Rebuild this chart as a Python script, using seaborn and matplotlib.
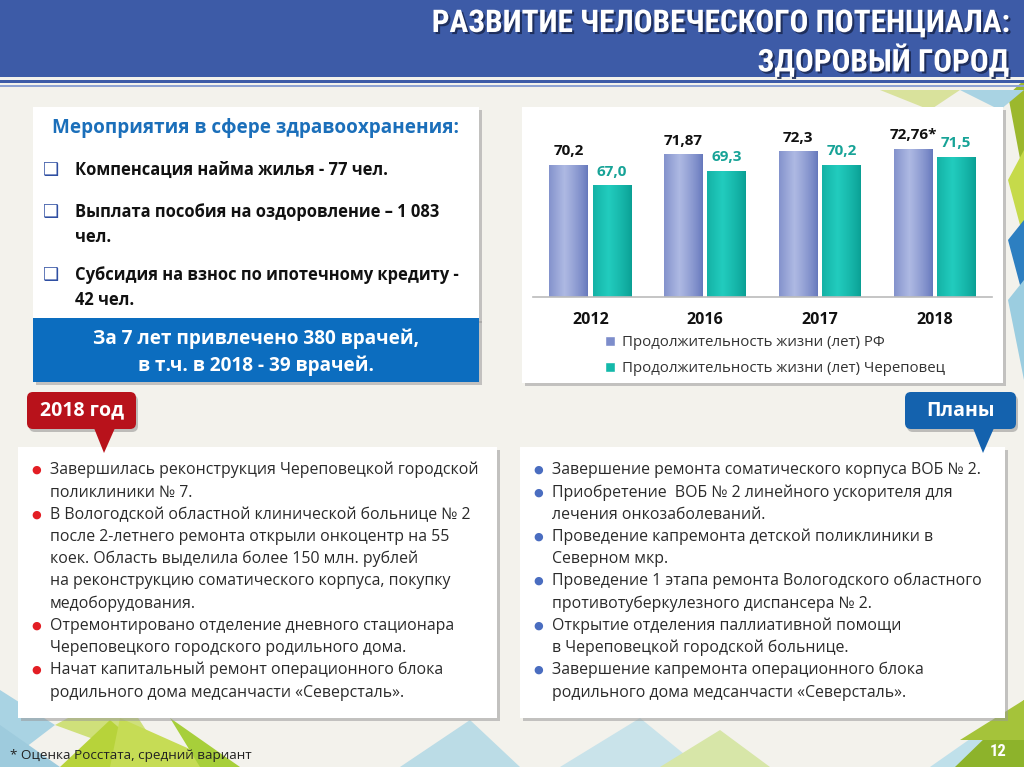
import numpy as np
import pandas as pd
import seaborn as sns
import matplotlib
matplotlib.use("Agg")
import matplotlib.pyplot as plt
from matplotlib.patches import Rectangle, Polygon, FancyBboxPatch
from matplotlib.colors import to_rgb
import matplotlib.patheffects as pe

# ---------------- data ----------------
years = ["2012", "2016", "2017", "2018"]
rf_values = [70.2, 71.87, 72.3, 72.76]
cher_values = [67.0, 69.3, 70.2, 71.5]
rf_labels = ["70,2", "71,87", "72,3", "72,76*"]
cher_labels = ["67,0", "69,3", "70,2", "71,5"]
series_names = ["Продолжительность жизни (лет) РФ",
                "Продолжительность жизни (лет) Череповец"]

title_lines = ["РАЗВИТИЕ ЧЕЛОВЕЧЕСКОГО ПОТЕНЦИАЛА:", "ЗДОРОВЫЙ ГОРОД"]
measures_title = "Мероприятия в сфере здравоохранения:"
measures = [["Компенсация найма жилья - 77 чел."],
            ["Выплата пособия на оздоровление – 1 083", "чел."],
            ["Субсидия на взнос по ипотечному кредиту -", "42 чел."]]
doctors_lines = ["За 7 лет привлечено 380 врачей,", "в т.ч. в 2018 - 39 врачей."]
done_tag = "2018 год"
done_items = [["Завершилась реконструкция Череповецкой городской", "поликлиники № 7."],
              ["В Вологодской областной клинической больнице № 2",
               "после 2-летнего ремонта открыли онкоцентр на 55",
               "коек. Область выделила более 150 млн. рублей",
               "на реконструкцию соматического корпуса, покупку",
               "медоборудования."],
              ["Отремонтировано отделение дневного стационара",
               "Череповецкого городского родильного дома."],
              ["Начат капитальный ремонт операционного блока",
               "родильного дома медсанчасти «Северсталь»."]]
plans_tag = "Планы"
plans_items = [["Завершение ремонта соматического корпуса ВОБ № 2."],
               ["Приобретение  ВОБ № 2 линейного ускорителя для",
                "лечения онкозаболеваний."],
               ["Проведение капремонта детской поликлиники в", "Северном мкр."],
               ["Проведение 1 этапа ремонта Вологодского областного",
                "противотуберкулезного диспансера № 2."],
               ["Открытие отделения паллиативной помощи",
                "в Череповецкой городской больнице."],
               ["Завершение капремонта операционного блока",
                "родильного дома медсанчасти «Северсталь»."]]
footnote = "* Оценка Росстата, средний вариант"
page_no = "12"

# ---------------- style ----------------
sns.set_theme(style="white")
BODY = ["Open Sans", "DejaVu Sans"]
COND = ["Liberation Sans Narrow", "Roboto Condensed", "Roboto", "DejaVu Sans"]
plt.rcParams["font.family"] = BODY

W, H = 1024, 767
fig = plt.figure(figsize=(W / 100, H / 100), dpi=100)
fig.patch.set_facecolor("#F3F2EC")

bg = fig.add_axes([0, 0, 1, 1], zorder=0)
bg.set_xlim(0, W)
bg.set_ylim(H, 0)
bg.axis("off")

# decorative triangles
tri = [
    ([(0, 690), (55, 725), (0, 767)], "#A9D3E3"),
    ([(0, 725), (60, 767), (0, 767)], "#9ECBDD"),
    ([(55, 725), (120, 690), (170, 767)], "#CFE07A"),
    ([(60, 767), (110, 720), (165, 767)], "#B7D33A"),
    ([(120, 718), (230, 767), (110, 767)], "#C6DC55"),
    ([(170, 718), (240, 767), (200, 767)], "#A7CF3A"),
    ([(400, 767), (470, 720), (520, 767)], "#BBDCE6"),
    ([(560, 767), (640, 718), (700, 767)], "#C9E3EA"),
    ([(660, 767), (720, 730), (770, 767)], "#D7E6A8"),
    ([(930, 767), (1000, 718), (1000, 767)], "#BFE0EA"),
    ([(955, 767), (1024, 700), (1024, 767)], "#8DB32B"),
    ([(960, 740), (1024, 700), (1024, 740)], "#A5C33A"),
    ([(1008, 95), (1024, 80), (1024, 180)], "#9CB82D"),
    ([(1008, 180), (1024, 150), (1024, 240)], "#C6DA4A"),
    ([(1008, 240), (1024, 220), (1024, 300)], "#2D7FC1"),
    ([(1008, 300), (1024, 280), (1024, 380)], "#9BCDE0"),
    ([(880, 90), (960, 90), (930, 110)], "#D9E29C"),
    ([(960, 90), (1024, 90), (1000, 110)], "#A9D3E3"),
]
for pts, c in tri:
    bg.add_patch(Polygon(pts, closed=True, facecolor=c, edgecolor="none", zorder=0))

# header
bg.add_patch(Rectangle((0, 0), W, 77, facecolor="#3D5BA7", edgecolor="none", zorder=1))
bg.add_patch(Rectangle((0, 80), W, 3, facecolor="#3D5BA7", edgecolor="none", zorder=1))
bg.add_patch(Rectangle((0, 85), W, 1.5, facecolor="#8FA3D3", edgecolor="none", zorder=1))
shadow = [pe.withSimplePatchShadow(offset=(1.5, -1.5), shadow_rgbFace="#1C2B55", alpha=0.9)]
for i, line in enumerate(title_lines):
    bg.text(1009, 23 + i * 37.5, line, ha="right", va="center", color="white",
            fontsize=22.5, fontweight="bold", family=COND, path_effects=shadow, zorder=3)


def panel(x0, y0, x1, y1, color="white", z=2):
    bg.add_patch(Rectangle((x0 + 3, y0 + 3), x1 - x0, y1 - y0, facecolor="#9A9A9A",
                           alpha=0.55, edgecolor="none", zorder=z))
    bg.add_patch(Rectangle((x0, y0), x1 - x0, y1 - y0, facecolor=color,
                           edgecolor="none", zorder=z + 0.1))


# top-left panel
panel(33, 107, 479, 320)
bg.text(256, 128, measures_title, ha="center", va="center", color="#1B6FBA",
        fontsize=13.6, fontweight="bold", zorder=4)
ys = [[170], [212, 237], [275, 300]]
for item, yy in zip(measures, ys):
    bg.text(51, yy[0], "❑", ha="center", va="center", color="#2F4FA2",
            fontsize=13, family=["DejaVu Sans"], zorder=4)
    for t, y in zip(item, yy):
        bg.text(75, y, t, ha="left", va="center", color="#111111",
                fontsize=11.9, fontweight="bold", zorder=4)
panel(33, 318, 479, 382, color="#0C6DBF")
for i, t in enumerate(doctors_lines):
    bg.text(256, 339 + i * 27, t, ha="center", va="center", color="white",
            fontsize=13.7, fontweight="bold", zorder=4)

# chart panel
panel(522, 107, 1003, 383)

# lower panels
panel(18, 447, 497, 718)
panel(520, 447, 1005, 718)

line_y = [470, 493, 515, 537, 559, 581, 604, 626, 648, 670, 693]


def bullets(items, xb, xt, color):
    k = 0
    for item in items:
        bg.text(xb, line_y[k], "●", ha="center", va="center", color=color,
                fontsize=8, family=["DejaVu Sans"], zorder=4)
        for t in item:
            bg.text(xt, line_y[k], t, ha="left", va="center", color="#2A2A2A",
                    fontsize=11.4, zorder=4)
            k += 1


bullets(done_items, 36, 50, "#E31E24")
bullets(plans_items, 538, 552, "#4A6DC0")


def callout(x0, y0, x1, y1, tip, color, text):
    bg.add_patch(FancyBboxPatch((x0 + 2, y0 + 3), x1 - x0, y1 - y0,
                                boxstyle="round,pad=0,rounding_size=6",
                                facecolor="#888888", alpha=0.5, edgecolor="none", zorder=5))
    bg.add_patch(Polygon([(tip[0] - 9, y1 - 1), (tip[0] + 12, y1 - 1), (tip[0] + 1, tip[1])],
                         closed=True, facecolor=color, edgecolor="none", zorder=5.2))
    bg.add_patch(FancyBboxPatch((x0, y0), x1 - x0, y1 - y0,
                                boxstyle="round,pad=0,rounding_size=6",
                                facecolor=color, edgecolor="none", zorder=5.3))
    bg.text((x0 + x1) / 2, (y0 + y1) / 2, text, ha="center", va="center",
            color="white", fontsize=14, fontweight="bold", zorder=6)


callout(27, 392, 136, 429, (103, 453), "#B8121B", done_tag)
callout(905, 392, 1016, 429, (982, 453), "#1462AE", plans_tag)

bg.text(10, 756, footnote, ha="left", va="center", color="#222222", fontsize=9.7, zorder=4)
bg.text(998, 752, page_no, ha="center", va="center", color="white", fontsize=12,
        fontweight="bold", family=COND, zorder=4)

# ---------------- bar chart ----------------
ax_l, ax_r, ax_top, ax_bot = 533, 992, 110, 297
ax = fig.add_axes([ax_l / W, 1 - ax_bot / H, (ax_r - ax_l) / W, (ax_bot - ax_top) / H], zorder=2)
ax.patch.set_alpha(0)

df = pd.DataFrame({
    "year": years * 2,
    "value": rf_values + cher_values,
    "series": [series_names[0]] * 4 + [series_names[1]] * 4,
})
colors = ["#7D8DCB", "#14B9AA"]
sns.barplot(data=df, x="year", y="value", hue="series", palette=colors,
            width=0.75, gap=0.1, ax=ax, legend=False, saturation=1)
Y0, Y1 = 49.5, 78.9
ax.set_ylim(Y0, Y1)
ax.set_xlim(-0.5, 3.5)

# cylinder-like horizontal shading drawn over the visible part of each bar
shades = [("#6577BC", "#AEB9E3"), ("#0A9F94", "#22CCBE")]
prof = np.linspace(0, 1, 64)
f = np.clip(1 - np.abs(prof - 0.4) / 0.6, 0, 1) ** 0.8
for cont, (dark, light) in zip(ax.containers, shades):
    d, l = np.array(to_rgb(dark)), np.array(to_rgb(light))
    grad = (d[None, :] * (1 - f[:, None]) + l[None, :] * f[:, None])[None, :, :]
    for p in cont:
        x0, w, top = p.get_x(), p.get_width(), p.get_y() + p.get_height()
        ax.imshow(grad, extent=[x0, x0 + w, Y0, top], aspect="auto",
                  zorder=p.get_zorder() + 0.1, interpolation="bilinear")

ax.set_ylim(Y0, Y1)
ax.set_xlim(-0.5, 3.5)
ax.set_xlabel("")
ax.set_ylabel("")
ax.set_yticks([])
for s in ["top", "left", "right"]:
    ax.spines[s].set_visible(False)
ax.spines["bottom"].set_color("#BBBBBB")
ax.spines["bottom"].set_linewidth(1.2)
ax.spines["bottom"].set_zorder(5)
ax.set_xticks(range(4))
ax.set_xticklabels(years, fontsize=11.5, fontweight="bold", color="#111111")
ax.tick_params(axis="x", length=0, pad=11)
ax.set_xticks(np.arange(-0.5, 4, 1), minor=True)
ax.tick_params(axis="x", which="minor", length=5, color="#BBBBBB", width=1.2, direction="out")

ax.bar_label(ax.containers[0], labels=rf_labels, padding=5, fontsize=11,
             fontweight="bold", color="#111111")
ax.bar_label(ax.containers[1], labels=cher_labels, padding=5, fontsize=11,
             fontweight="bold", color="#17A397")

handles = [Rectangle((0, 0), 1, 1, facecolor=c) for c in colors]
fig.legend(handles, series_names, loc="upper left",
           bbox_to_anchor=(591 / W, 1 - 322 / H), frameon=False, fontsize=10.8,
           handlelength=0.7, handleheight=0.7, handletextpad=0.5, labelspacing=0.72,
           labelcolor="#333333")

fig.savefig("out.png", dpi=100, facecolor=fig.get_facecolor())
